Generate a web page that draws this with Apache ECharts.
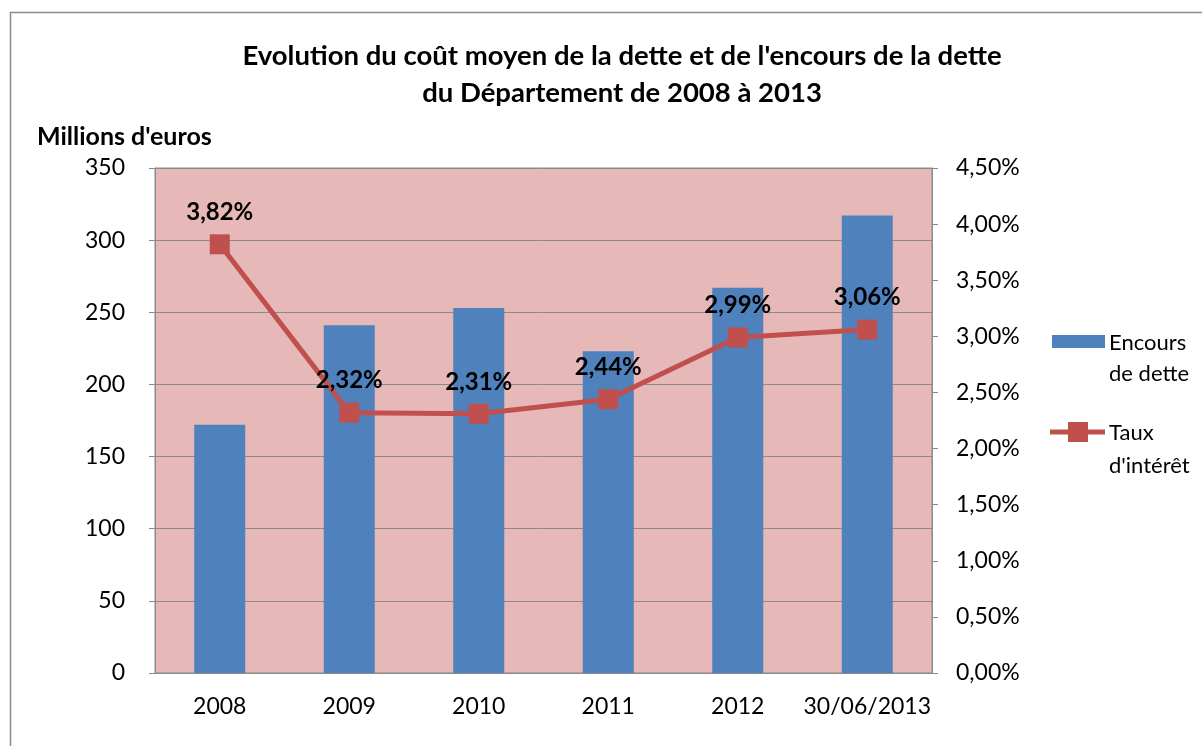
<!DOCTYPE html>
<html>
<head>
<meta charset="utf-8">
<script src="https://cdn.jsdelivr.net/npm/echarts@6/dist/echarts.min.js"></script>
<style>
  html, body { margin: 0; padding: 0; background: #fff; }
  #chart { width: 1202px; height: 746px; }
</style>
</head>
<body>
<div id="chart"></div>
<script>
// données
const categories = ['2008', '2009', '2010', '2011', '2012', '30/06/2013']
const encours = [172, 241, 253, 223, 267, 317]
const taux = [3.82, 2.32, 2.31, 2.44, 2.99, 3.06]

const fontFam = 'Lato, "Open Sans", sans-serif'
const pct = v => v.toFixed(2).replace('.', ',') + '%'

const chart = echarts.init(document.getElementById('chart'))
chart.setOption({
  animation: false,
  backgroundColor: '#fff',
  textStyle: { fontFamily: fontFam },
  title: {
    text: "Evolution du coût moyen de la dette et de l'encours de la dette\ndu Département de 2008 à 2013",
    left: 617,
    textAlign: 'center',
    top: 33,
    textStyle: { fontSize: 27.5, fontWeight: 'bold', color: '#000', lineHeight: 37, fontFamily: fontFam }
  },
  graphic: [
    {
      type: 'rect',
      shape: { x: 10.5, y: 12.5, width: 1210, height: 760 },
      style: { fill: 'none', stroke: '#8a8a8a', lineWidth: 1.5 },
      silent: true
    },
    {
      type: 'text',
      left: 37,
      top: 124,
      style: { text: "Millions d'euros", font: 'bold 25px ' + fontFam, fill: '#000' }
    },
    // légende
    {
      type: 'rect',
      shape: { x: 1052, y: 335, width: 53, height: 13 },
      style: { fill: '#4F81BD' }
    },
    {
      type: 'text',
      left: 1109,
      top: 327,
      style: { text: 'Encours\nde dette', font: '22px ' + fontFam, lineHeight: 31, fill: '#000' }
    },
    {
      type: 'line',
      shape: { x1: 1050, y1: 432, x2: 1105, y2: 432 },
      style: { stroke: '#C0504D', lineWidth: 5 }
    },
    {
      type: 'rect',
      shape: { x: 1068, y: 422, width: 20, height: 20 },
      style: { fill: '#C0504D' }
    },
    {
      type: 'text',
      left: 1109,
      top: 416,
      style: { text: "Taux\nd'intérêt", font: '22px ' + fontFam, lineHeight: 33, fill: '#000' }
    }
  ],
  grid: {
    left: 155,
    right: 270,
    top: 168,
    bottom: 73,
    show: true,
    backgroundColor: '#E6B9B8',
    borderColor: '#8a8a8a',
    borderWidth: 1
  },
  xAxis: {
    type: 'category',
    data: categories,
    axisLine: { lineStyle: { color: '#8a8a8a' } },
    axisTick: { show: false },
    axisLabel: { color: '#000', fontSize: 23, margin: 22, interval: 0 }
  },
  yAxis: [
    {
      type: 'value',
      min: 0,
      max: 350,
      interval: 50,
      axisLine: { show: true, lineStyle: { color: '#8a8a8a' } },
      axisTick: { show: true, length: 6, lineStyle: { color: '#8a8a8a' } },
      axisLabel: { color: '#000', fontSize: 23, margin: 30 },
      splitLine: { lineStyle: { color: '#8a8a8a', width: 1 } }
    },
    {
      type: 'value',
      min: 0,
      max: 4.5,
      interval: 0.5,
      axisLine: { show: true, lineStyle: { color: '#8a8a8a' } },
      axisTick: { show: true, length: 6, lineStyle: { color: '#8a8a8a' } },
      axisLabel: { color: '#000', fontSize: 23, margin: 24, formatter: pct },
      splitLine: { show: false }
    }
  ],
  series: [
    {
      name: 'Encours de dette',
      type: 'bar',
      data: encours,
      barWidth: 51,
      itemStyle: { color: '#4F81BD' }
    },
    {
      name: "Taux d'intérêt",
      type: 'line',
      yAxisIndex: 1,
      data: taux,
      symbol: 'rect',
      symbolSize: 20,
      lineStyle: { color: '#C0504D', width: 5 },
      itemStyle: { color: '#C0504D' },
      label: {
        show: true,
        position: 'top',
        distance: 10,
        fontSize: 24,
        fontWeight: 'bold',
        color: '#000',
        formatter: p => pct(p.value)
      }
    }
  ]
})
</script>
</body>
</html>
